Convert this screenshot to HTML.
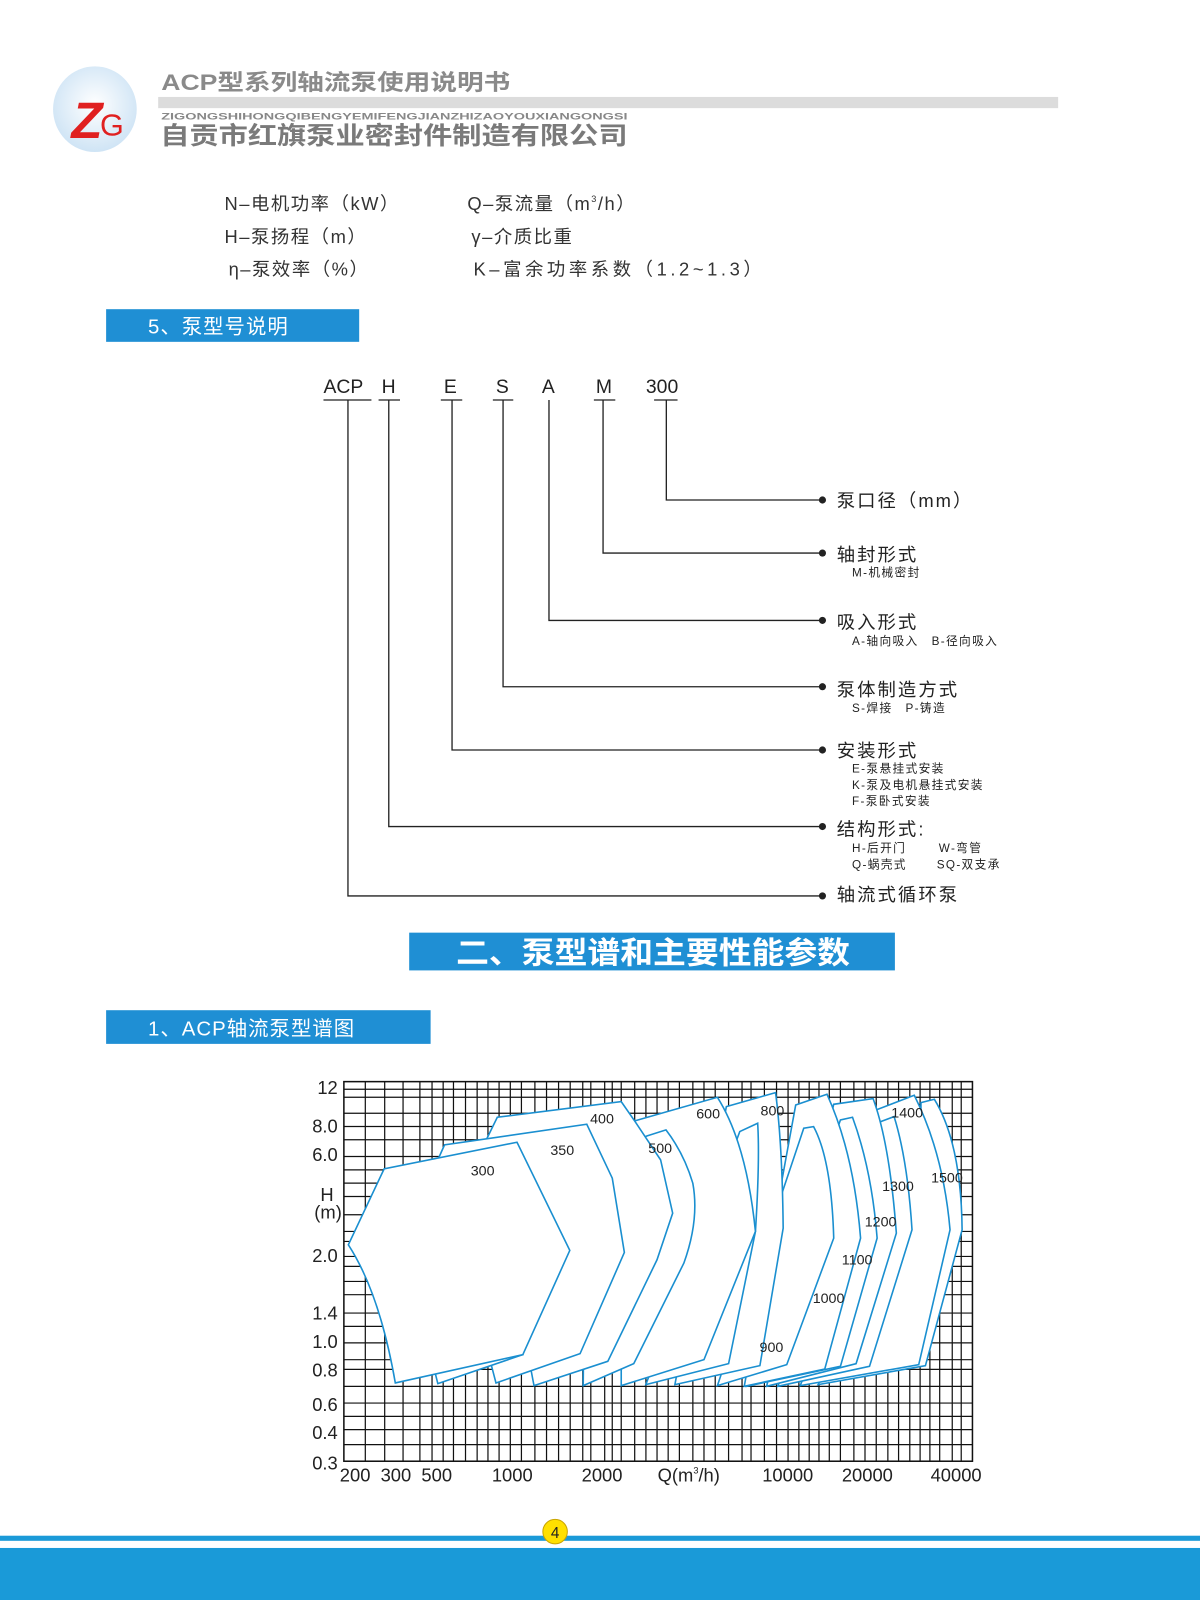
<!DOCTYPE html>
<html><head><meta charset="utf-8"><style>
html,body{margin:0;padding:0;background:#fff;}
svg{display:block;}
text{font-family:"Liberation Sans","Noto Sans CJK SC",sans-serif;}
</style></head><body>
<svg width="1200" height="1600" viewBox="0 0 1176 1568" xmlns="http://www.w3.org/2000/svg">
<defs>
<radialGradient id="lg" cx="50%" cy="45%" r="55%"><stop offset="0" stop-color="#ffffff"/><stop offset="1" stop-color="#cfe4f5"/></radialGradient>
</defs>
<!-- header -->
<ellipse cx="93" cy="107" rx="41" ry="42" fill="url(#lg)"/>
<text x="70" y="135" font-size="50" font-weight="bold" fill="#e02020" font-style="italic">Z</text>
<text x="98" y="133" font-size="30" fill="#e02020">G</text>
<text x="158" y="88" font-size="22" font-weight="bold" fill="#8a8a8a" textLength="342" lengthAdjust="spacingAndGlyphs">ACP型系列轴流泵使用说明书</text>
<rect x="155" y="95" width="882" height="11" fill="#dcdcdc"/>
<text x="158" y="117" font-size="8.6" font-weight="bold" fill="#888" textLength="457" lengthAdjust="spacingAndGlyphs">ZIGONGSHIHONGQIBENGYEMIFENGJIANZHIZAOYOUXIANGONGSI</text>
<text x="157" y="141" font-size="24" font-weight="bold" fill="#7a7a7a" textLength="458" lengthAdjust="spacingAndGlyphs">自贡市红旗泵业密封件制造有限公司</text>
<!-- legend -->
<g font-size="18" fill="#333" letter-spacing="1.5">
<text x="220" y="206">N–电机功率（kW）</text>
<text x="458" y="206">Q–泵流量（m<tspan font-size="9" dy="-8">3</tspan><tspan dy="8">/h）</tspan></text>
<text x="220" y="238">H–泵扬程（m）</text>
<text x="462" y="238">γ–介质比重</text>
<text x="224" y="270">η–泵效率（%）</text>
<text x="464" y="270" letter-spacing="3.5">K–富余功率系数（1.2~1.3）</text>
</g>
<rect x="104" y="303" width="248" height="32" fill="#1f8fd4"/>
<text x="145" y="327" font-size="20" fill="#fff" letter-spacing="1">5、泵型号说明</text>
<!-- code diagram -->
<g font-size="19" fill="#222">
<text x="317" y="385">ACP</text><text x="374" y="385">H</text><text x="435" y="385">E</text><text x="486" y="385">S</text><text x="531" y="385">A</text><text x="584" y="385">M</text><text x="633" y="385">300</text>
</g>
<g stroke="#222" stroke-width="1.3" fill="none">
<line x1="317" y1="392" x2="364" y2="392"/><line x1="371" y1="392" x2="392" y2="392"/><line x1="432" y1="392" x2="453" y2="392"/><line x1="483" y1="392" x2="503" y2="392"/><line x1="582" y1="392" x2="603" y2="392"/><line x1="641" y1="392" x2="664" y2="392"/>
<polyline points="341,392 341,878 806,878"/>
<polyline points="381,392 381,810 806,810"/>
<polyline points="443,392 443,735 806,735"/>
<polyline points="493,392 493,673 806,673"/>
<polyline points="538,392 538,608 806,608"/>
<polyline points="591,392 591,542 806,542"/>
<polyline points="653,392 653,490 806,490"/>
</g>
<g fill="#222"><circle cx="806" cy="490" r="3.5"/><circle cx="806" cy="542" r="3.5"/><circle cx="806" cy="608" r="3.5"/><circle cx="806" cy="673" r="3.5"/><circle cx="806" cy="735" r="3.5"/><circle cx="806" cy="810" r="3.5"/><circle cx="806" cy="878" r="3.5"/></g>
<g font-size="18" fill="#222" letter-spacing="2">
<text x="820" y="497">泵口径（mm）</text>
<text x="820" y="550">轴封形式</text>
<text x="820" y="616">吸入形式</text>
<text x="820" y="682">泵体制造方式</text>
<text x="820" y="742">安装形式</text>
<text x="820" y="819">结构形式:</text>
<text x="820" y="883">轴流式循环泵</text>
</g>
<g font-size="11.5" fill="#222" letter-spacing="1.3">
<text x="835" y="565">M-机械密封</text>
<text x="835" y="632">A-轴向吸入　B-径向吸入</text>
<text x="835" y="698">S-焊接　P-铸造</text>
<text x="835" y="757">E-泵悬挂式安装</text>
<text x="835" y="773">K-泵及电机悬挂式安装</text>
<text x="835" y="789">F-泵卧式安装</text>
<text x="835" y="835">H-后开门</text><text x="920" y="835">W-弯管</text>
<text x="835" y="851">Q-蜗壳式</text><text x="918" y="851">SQ-双支承</text>
</g>
<rect x="401" y="914" width="476" height="37" fill="#1f8fd4"/>
<text x="447" y="944" font-size="30" font-weight="bold" fill="#fff" textLength="386" lengthAdjust="spacingAndGlyphs">二、泵型谱和主要性能参数</text>
<rect x="104" y="990" width="318" height="33" fill="#1f8fd4"/>
<text x="145" y="1015" font-size="20" fill="#fff" letter-spacing="1">1、ACP轴流泵型谱图</text>
<!-- chart grid -->
<rect x="337" y="1060" width="616" height="372" fill="#fff" stroke="#111" stroke-width="1.5"/>
<g stroke="#111" stroke-width="1.2">
<line x1="358" y1="1060" x2="358" y2="1432"/><line x1="377" y1="1060" x2="377" y2="1432"/><line x1="395" y1="1060" x2="395" y2="1432"/><line x1="411.5" y1="1060" x2="411.5" y2="1432"/><line x1="423.4" y1="1060" x2="423.4" y2="1432"/><line x1="434.3" y1="1060" x2="434.3" y2="1432"/><line x1="444.4" y1="1060" x2="444.4" y2="1432"/><line x1="456.2" y1="1060" x2="456.2" y2="1432"/><line x1="467.6" y1="1060" x2="467.6" y2="1432"/><line x1="478.2" y1="1060" x2="478.2" y2="1432"/><line x1="489.1" y1="1060" x2="489.1" y2="1432"/><line x1="500.1" y1="1060" x2="500.1" y2="1432"/><line x1="511" y1="1060" x2="511" y2="1432"/><line x1="524.2" y1="1060" x2="524.2" y2="1432"/><line x1="535.6" y1="1060" x2="535.6" y2="1432"/><line x1="547.4" y1="1060" x2="547.4" y2="1432"/><line x1="558.8" y1="1060" x2="558.8" y2="1432"/><line x1="571.1" y1="1060" x2="571.1" y2="1432"/><line x1="579" y1="1060" x2="579" y2="1432"/><line x1="592.6" y1="1060" x2="592.6" y2="1432"/><line x1="600" y1="1060" x2="600" y2="1432"/><line x1="608.8" y1="1060" x2="608.8" y2="1432"/><line x1="622" y1="1060" x2="622" y2="1432"/><line x1="633" y1="1060" x2="633" y2="1432"/><line x1="643.9" y1="1060" x2="643.9" y2="1432"/><line x1="654.8" y1="1060" x2="654.8" y2="1432"/><line x1="665.8" y1="1060" x2="665.8" y2="1432"/><line x1="679" y1="1060" x2="679" y2="1432"/><line x1="689.9" y1="1060" x2="689.9" y2="1432"/><line x1="700.9" y1="1060" x2="700.9" y2="1432"/><line x1="714" y1="1060" x2="714" y2="1432"/><line x1="727.2" y1="1060" x2="727.2" y2="1432"/><line x1="736" y1="1060" x2="736" y2="1432"/><line x1="749.1" y1="1060" x2="749.1" y2="1432"/><line x1="761" y1="1060" x2="761" y2="1432"/><line x1="772.3" y1="1060" x2="772.3" y2="1432"/><line x1="782.9" y1="1060" x2="782.9" y2="1432"/><line x1="793" y1="1060" x2="793" y2="1432"/><line x1="802.6" y1="1060" x2="802.6" y2="1432"/><line x1="812.7" y1="1060" x2="812.7" y2="1432"/><line x1="823.6" y1="1060" x2="823.6" y2="1432"/><line x1="836.8" y1="1060" x2="836.8" y2="1432"/><line x1="847.7" y1="1060" x2="847.7" y2="1432"/><line x1="858.7" y1="1060" x2="858.7" y2="1432"/><line x1="870.1" y1="1060" x2="870.1" y2="1432"/><line x1="880.6" y1="1060" x2="880.6" y2="1432"/><line x1="891.6" y1="1060" x2="891.6" y2="1432"/><line x1="901.7" y1="1060" x2="901.7" y2="1432"/><line x1="911.3" y1="1060" x2="911.3" y2="1432"/><line x1="920.9" y1="1060" x2="920.9" y2="1432"/><line x1="933.2" y1="1060" x2="933.2" y2="1432"/><line x1="942" y1="1060" x2="942" y2="1432"/>
<line x1="337" y1="1067.5" x2="953" y2="1067.5"/><line x1="337" y1="1075.3" x2="953" y2="1075.3"/><line x1="337" y1="1091" x2="953" y2="1091"/><line x1="337" y1="1104" x2="953" y2="1104"/><line x1="337" y1="1117" x2="953" y2="1117"/><line x1="337" y1="1133.4" x2="953" y2="1133.4"/><line x1="337" y1="1146.5" x2="953" y2="1146.5"/><line x1="337" y1="1159.5" x2="953" y2="1159.5"/><line x1="337" y1="1172.6" x2="953" y2="1172.6"/><line x1="337" y1="1190.5" x2="953" y2="1190.5"/><line x1="337" y1="1206.8" x2="953" y2="1206.8"/><line x1="337" y1="1216.6" x2="953" y2="1216.6"/><line x1="337" y1="1231.3" x2="953" y2="1231.3"/><line x1="337" y1="1241" x2="953" y2="1241"/><line x1="337" y1="1255.8" x2="953" y2="1255.8"/><line x1="337" y1="1268.8" x2="953" y2="1268.8"/><line x1="337" y1="1286.8" x2="953" y2="1286.8"/><line x1="337" y1="1299.8" x2="953" y2="1299.8"/><line x1="337" y1="1316" x2="953" y2="1316"/><line x1="337" y1="1332.5" x2="953" y2="1332.5"/><line x1="337" y1="1342" x2="953" y2="1342"/><line x1="337" y1="1358.6" x2="953" y2="1358.6"/><line x1="337" y1="1375" x2="953" y2="1375"/><line x1="337" y1="1388" x2="953" y2="1388"/><line x1="337" y1="1401" x2="953" y2="1401"/><line x1="337" y1="1415.7" x2="953" y2="1415.7"/>
</g>
<!-- shapes in zoom coords -->
<g transform="translate(337,1060) scale(0.4384,0.3263) translate(-100,-65)" fill="#fff" stroke="#1a8fd0" stroke-width="1.6">
<path vector-effect="non-scaling-stroke" d="M1160,975 L1400,918 L1482,510 Q1480,250 1420,118 L1390,128 L1390,400 Z"/>
<path vector-effect="non-scaling-stroke" d="M1120,978 L1385,915 L1455,510 Q1440,280 1375,106 L1290,150 L1300,400 Z"/>
<path vector-effect="non-scaling-stroke" d="M1070,980 L1275,920 L1370,510 Q1360,300 1330,170 L1300,185 Z"/>
<path vector-effect="non-scaling-stroke" d="M1045,980 L1245,912 L1335,520 Q1320,250 1283,116 L1195,133 Z"/>
<path vector-effect="non-scaling-stroke" d="M1000,980 L1210,920 L1292,535 Q1280,330 1237,172 L1210,180 Z"/>
<path vector-effect="non-scaling-stroke" d="M995,980 L1175,928 L1255,535 Q1240,280 1180,103 L1110,135 Z"/>
<path vector-effect="non-scaling-stroke" d="M935,978 L1090,915 L1195,535 Q1190,300 1150,200 L1128,205 Z"/>
<path vector-effect="non-scaling-stroke" d="M840,975 L1030,918 L1082,505 Q1080,250 1065,98 L955,140 Z"/>
<path vector-effect="non-scaling-stroke" d="M775,975 L960,912 L1020,515 Q1030,300 1025,190 L985,215 Z"/>
<path vector-effect="non-scaling-stroke" d="M720,978 L905,900 L1020,515 Q1000,250 935,112 L750,183 L720,300 Z"/>
<path vector-effect="non-scaling-stroke" d="M635,978 L748,912 L860,610 Q895,480 880,370 Q860,280 820,210 L778,228 L640,300 Z"/>
<path vector-effect="non-scaling-stroke" d="M525,978 L690,905 L800,600 L835,460 L808,300 L750,183 L720,125 L443,172 L420,235 Z"/>
<path vector-effect="non-scaling-stroke" d="M440,970 L628,882 L727,578 L700,355 L643,193 L325,255 L310,300 Z"/>
<path vector-effect="non-scaling-stroke" d="M310,972 L500,885 L400,500 L305,945 Z"/>
<path vector-effect="non-scaling-stroke" d="M215,970 L500,885 L605,572 L487,247 L190,327 L110,555 Q180,700 215,970 Z"/>
</g>
<g font-size="14" fill="#222" text-anchor="middle">
<text x="473" y="1152">300</text><text x="551" y="1132">350</text><text x="590" y="1101">400</text><text x="647" y="1130">500</text><text x="694" y="1096">600</text><text x="757" y="1093">800</text><text x="756" y="1325">900</text><text x="812" y="1277">1000</text><text x="840" y="1239">1100</text><text x="863" y="1202">1200</text><text x="880" y="1167">1300</text><text x="889" y="1095">1400</text><text x="928" y="1159">1500</text>
</g>
<g font-size="18" fill="#222" text-anchor="end">
<text x="331" y="1072">12</text><text x="331" y="1110">8.0</text><text x="331" y="1138">6.0</text><text x="327" y="1177">H</text><text x="335" y="1194">(m)</text><text x="331" y="1237">2.0</text><text x="331" y="1293">1.4</text><text x="331" y="1321">1.0</text><text x="331" y="1349">0.8</text><text x="331" y="1383">0.6</text><text x="331" y="1410">0.4</text><text x="331" y="1440">0.3</text>
</g>
<g font-size="18" fill="#222" text-anchor="middle">
<text x="348" y="1452">200</text><text x="388" y="1452">300</text><text x="428" y="1452">500</text><text x="502" y="1452">1000</text><text x="590" y="1452">2000</text><text x="675" y="1452">Q(m<tspan font-size="9" dy="-8">3</tspan><tspan dy="8">/h)</tspan></text><text x="772" y="1452">10000</text><text x="850" y="1452">20000</text><text x="937" y="1452">40000</text>
</g>
<!-- footer -->
<rect x="0" y="1505" width="1176" height="5" fill="#1a9ad8"/>
<rect x="0" y="1517" width="1176" height="51" fill="#1a9ad8"/>
<circle cx="544" cy="1501" r="12" fill="#ffe000" stroke="#c9a400" stroke-width="1"/>
<text x="544" y="1507" font-size="15" text-anchor="middle" fill="#222">4</text>
</svg>
</body></html>
